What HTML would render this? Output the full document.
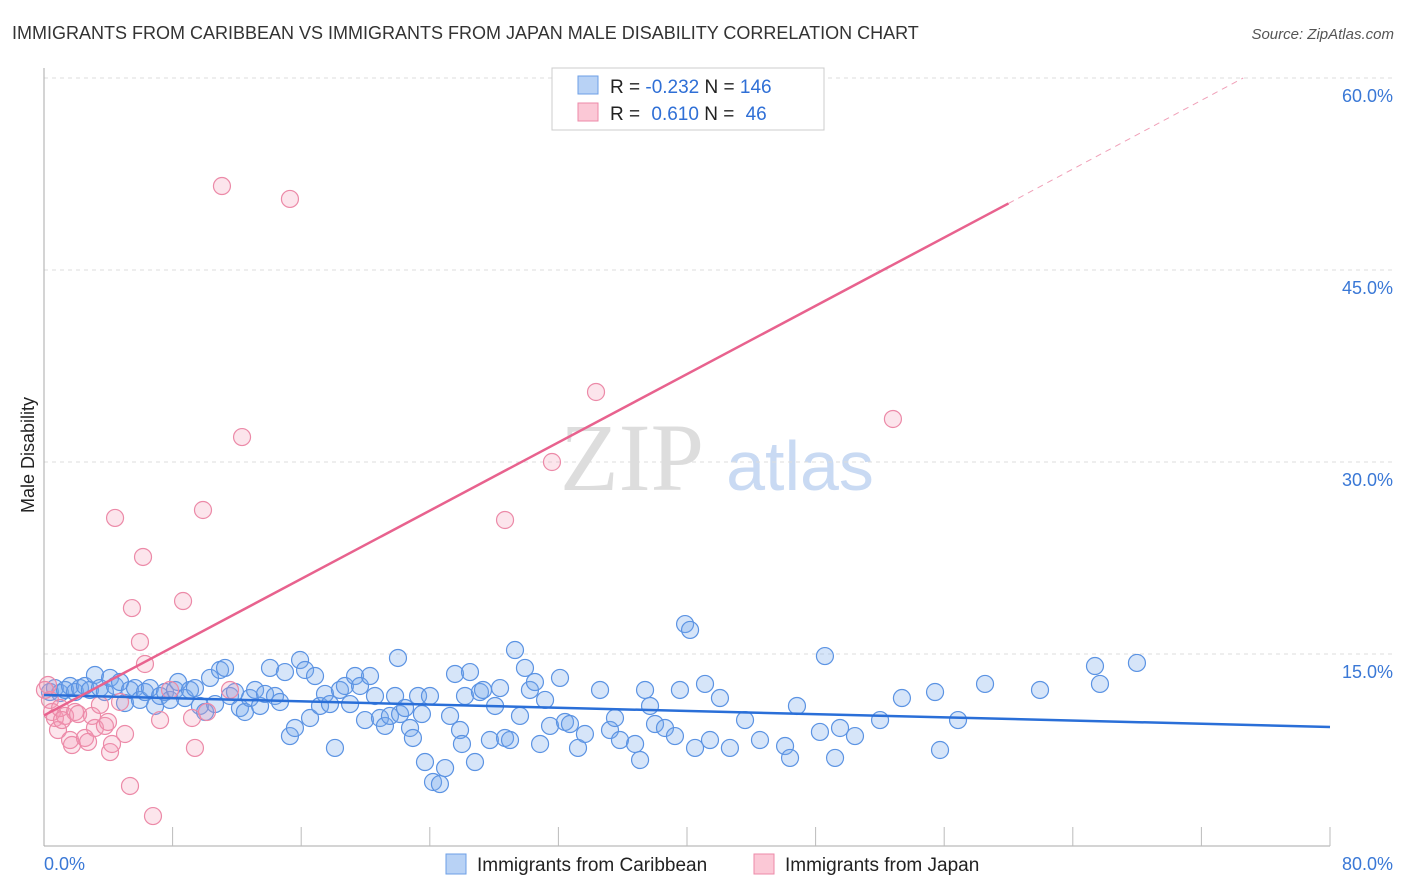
<!DOCTYPE html>
<html><head><meta charset="utf-8"><style>
body{margin:0;background:#fff;font-family:"Liberation Sans",sans-serif;}
#c{position:absolute;left:0;top:0;}
</style></head><body>
<svg id="c" width="1406" height="892" xmlns="http://www.w3.org/2000/svg">
<text x="12" y="39" font-size="18" fill="#333">IMMIGRANTS FROM CARIBBEAN VS IMMIGRANTS FROM JAPAN MALE DISABILITY CORRELATION CHART</text>
<text x="1394" y="39" font-size="15" fill="#555" font-style="italic" text-anchor="end">Source: ZipAtlas.com</text>
<text x="632" y="490" font-size="96" fill="#ddd" font-family="Liberation Serif,serif" text-anchor="middle">ZIP</text>
<text x="800" y="490" font-size="70" fill="#c9daf3" text-anchor="middle">atlas</text>
<g id="grid"></g><g id="axes"></g><g id="pts"></g><g id="lines"></g>
<text transform="translate(34,455) rotate(-90)" font-size="18" fill="#222" text-anchor="middle">Male Disability</text>
<g>
<rect x="552" y="68" width="272" height="62" fill="#fff" stroke="#ccc"/>
<rect x="578" y="76" width="20" height="18" fill="#b8d2f5" stroke="#6d9fe6"/>
<rect x="578" y="103" width="20" height="18" fill="#fbc8d6" stroke="#ec8aa8"/>
<text x="610" y="93" font-size="19" fill="#222">R = <tspan fill="#2f6fd6">-0.232</tspan>   N = <tspan fill="#2f6fd6">146</tspan></text>
<text x="610" y="120" font-size="19" fill="#222">R =  <tspan fill="#2f6fd6" dx="6">0.610</tspan>   N =  <tspan fill="#2f6fd6" dx="6">46</tspan></text>
</g>
<g>
<rect x="446" y="854" width="20" height="20" fill="#b8d2f5" stroke="#6d9fe6"/>
<text x="477" y="871" font-size="19" fill="#222">Immigrants from Caribbean</text>
<rect x="754" y="854" width="20" height="20" fill="#fbc8d6" stroke="#ec8aa8"/>
<text x="785" y="871" font-size="19" fill="#222">Immigrants from Japan</text>
</g>
</svg>
<script>
const xTicks=[0,80];
const yTicks=[15,30,45,60];
const blueX=[],blueY=[],pinkX=[],pinkY=[];
const blueRaw=[[50,692],[55,688],[60,693],[65,690],[70,686],[75,692],[80,688],[85,686],[90,690],[95,675],[100,688],[105,692],[110,678],[115,686],[120,682],[125,703],[130,690],[135,688],[140,700],[145,692],[150,688],[155,706],[160,696],[165,692],[170,700],[175,690],[178,682],[185,698],[190,690],[195,688],[200,706],[205,712],[210,678],[215,704],[220,670],[225,668],[230,696],[235,692],[240,708],[245,712],[250,698],[255,690],[260,706],[265,694],[270,668],[275,696],[280,702],[285,672],[290,736],[295,728],[300,660],[305,670],[310,718],[315,676],[320,706],[325,694],[330,704],[335,748],[340,690],[345,686],[350,704],[355,676],[360,686],[365,720],[370,676],[375,696],[380,718],[385,726],[390,716],[395,696],[398,658],[400,714],[405,708],[410,728],[413,738],[418,696],[422,714],[425,762],[430,696],[433,782],[440,784],[445,768],[450,716],[455,674],[460,730],[462,744],[465,696],[470,672],[475,762],[480,692],[483,690],[490,740],[495,706],[500,688],[505,738],[510,740],[515,650],[520,716],[525,668],[530,690],[535,682],[540,744],[545,700],[550,726],[560,678],[565,722],[570,724],[578,748],[585,734],[600,690],[610,730],[615,718],[620,740],[635,744],[640,760],[645,690],[650,706],[655,724],[665,728],[675,736],[680,690],[685,624],[690,630],[695,748],[705,684],[710,740],[720,698],[730,748],[745,720],[760,740],[785,746],[790,758],[797,706],[820,732],[825,656],[835,758],[840,728],[855,736],[880,720],[902,698],[935,692],[940,750],[958,720],[985,684],[1040,690],[1095,666],[1100,684],[1137,663]];
const pinkRaw=[[48,685],[50,700],[52,712],[55,718],[58,730],[60,708],[65,716],[70,740],[72,745],[75,712],[78,714],[85,738],[88,742],[92,716],[95,728],[100,705],[105,726],[108,722],[110,752],[112,744],[115,518],[120,702],[125,734],[130,786],[132,608],[140,642],[143,557],[145,664],[153,816],[160,720],[170,690],[183,601],[192,718],[195,748],[203,510],[207,712],[222,186],[230,690],[242,437],[290,199],[505,520],[552,462],[596,392],[893,419],[45,690],[62,720]];
// values expressed in data units
blueRaw.forEach(p=>{blueX.push(+((p[0]-44)/1286*80).toFixed(2));blueY.push(+((846-p[1])/192*15).toFixed(2));});
pinkRaw.forEach(p=>{pinkX.push(+((p[0]-44)/1286*80).toFixed(2));pinkY.push(+((846-p[1])/192*15).toFixed(2));});
const blueTrend=[[0,11.8],[80,9.3]];
const pinkTrend=[[0,10.2],[60,50.2],[74.6,60]];
const X=v=>44+v/80*1286, Y=v=>846-v/15*192;
const NS="http://www.w3.org/2000/svg";
function mk(tag,attrs,parent){const e=document.createElementNS(NS,tag);for(const k in attrs)e.setAttribute(k,attrs[k]);document.getElementById(parent).appendChild(e);return e;}
yTicks.forEach(t=>{
 const l=mk('line',{x1:44,x2:1394,y1:Y(t),y2:Y(t),stroke:'#ddd','stroke-dasharray':'4,4'},'grid');
 
 
 const tx=mk('text',{x:1393,y:Y(t)+24,'font-size':18,fill:'#3a78d6','text-anchor':'end'},'axes');
 tx.textContent=t.toFixed(1)+'%';
 
 
});
mk('line',{x1:44,x2:44,y1:68,y2:846,stroke:'#aaa'},'axes');
mk('line',{x1:44,x2:1330,y1:846,y2:846,stroke:'#aaa'},'axes');
for(let i=1;i<=10;i++){mk('line',{x1:X(i*8),x2:X(i*8),y1:827,y2:846,stroke:'#bbb'},'axes');}
xTicks.forEach((t,i)=>{
 const tx=mk('text',{x:i?1393:44,y:870,'font-size':18,fill:'#3a78d6','text-anchor':i?'end':'start'},'axes');
 tx.textContent=t.toFixed(1)+'%';
 
 
});
blueX.forEach((x,i)=>{
 const c=mk('circle',{cx:X(x),cy:Y(blueY[i]),r:8.5,fill:'rgba(120,170,235,0.3)',stroke:'#5b93e3','stroke-width':1.2},'pts');
 
 
});
pinkX.forEach((x,i)=>{
 const c=mk('circle',{cx:X(x),cy:Y(pinkY[i]),r:8.5,fill:'rgba(245,150,180,0.25)',stroke:'#ec8aa8','stroke-width':1.2},'pts');
 
 
});
const bl=mk('line',{x1:X(blueTrend[0][0]),y1:Y(blueTrend[0][1]),x2:X(blueTrend[1][0]),y2:Y(blueTrend[1][1]),stroke:'#2a6fd8','stroke-width':2.5},'lines');


const pl=mk('line',{x1:X(pinkTrend[0][0]),y1:Y(pinkTrend[0][1]),x2:X(pinkTrend[1][0]),y2:Y(pinkTrend[1][1]),stroke:'#e8628e','stroke-width':2.5},'lines');


const pd=mk('line',{x1:X(pinkTrend[1][0]),y1:Y(pinkTrend[1][1]),x2:X(pinkTrend[2][0]),y2:Y(pinkTrend[2][1]),stroke:'#f0a0b8','stroke-width':1,'stroke-dasharray':'6,5'},'lines');


</script>
</body></html>
